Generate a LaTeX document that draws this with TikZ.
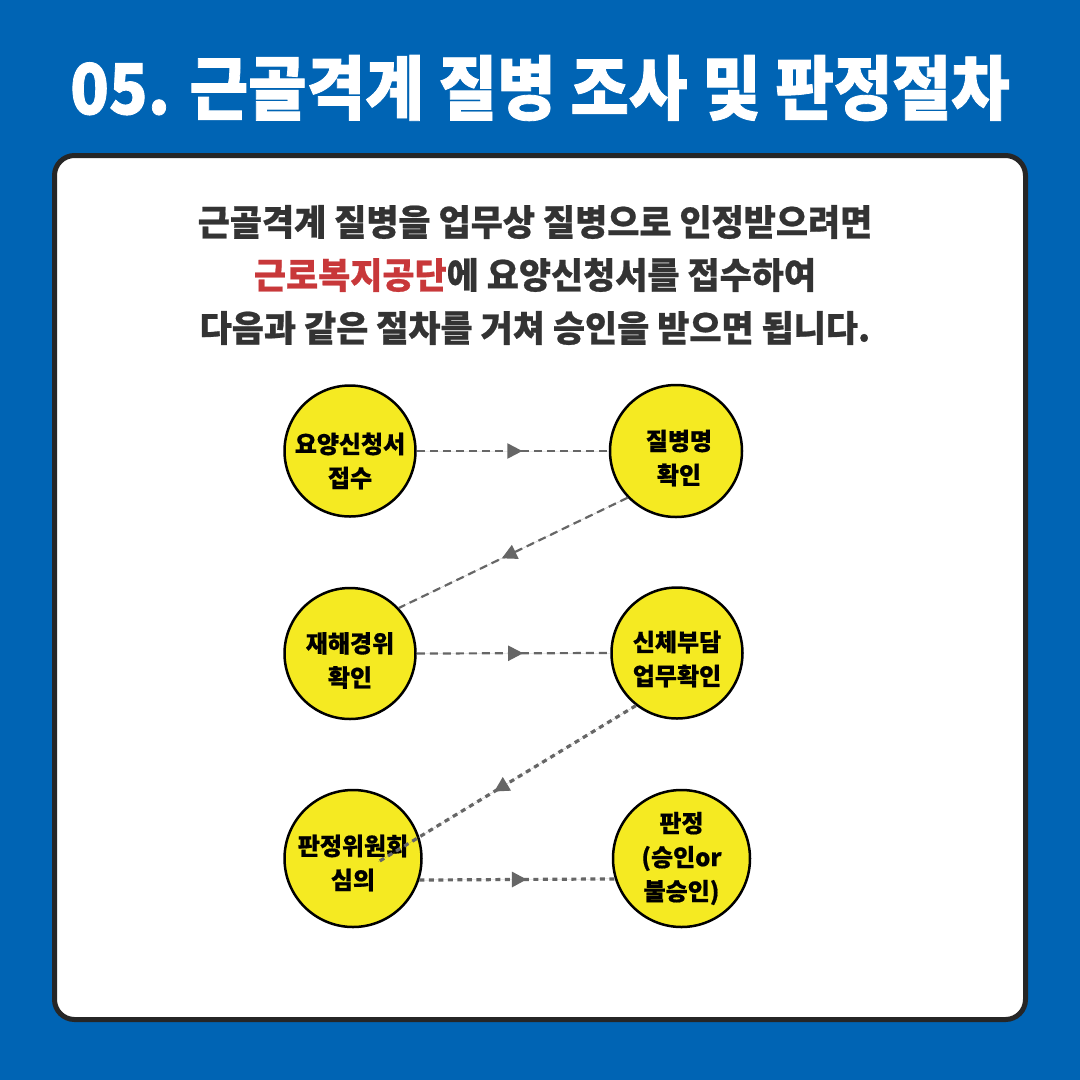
\documentclass[tikz,border=0pt]{standalone}
\usepackage{fontspec}
\setmainfont{Noto Sans CJK KR}
\usetikzlibrary{decorations.markings,arrows.meta}
\definecolor{bgblue}{HTML}{0064B4}
\definecolor{boxline}{HTML}{262626}
\definecolor{bodytext}{HTML}{333333}
\definecolor{accentred}{HTML}{C8383A}
\definecolor{stepyellow}{HTML}{F5EA22}
\definecolor{arrowgray}{HTML}{666666}
\tikzset{
  titletext/.style={text=white,font=\fontsize{70}{78}\selectfont\bfseries\addfontfeature{FakeBold=1.2},inner sep=0},
  panel/.style={draw=boxline,line width=5pt,fill=white,rounded corners=20pt,inner sep=0},
  bodypara/.style={text=bodytext,align=center,font=\fontsize{36}{53}\selectfont\bfseries\addfontfeature{FakeBold=0.6},inner sep=0},
  stepcircle/.style={circle,draw=black,line width=2.5pt,fill=stepyellow,inner sep=0,minimum size=#1},
  steplabel/.style={align=center,text=black,font=\fontsize{24}{34}\selectfont\bfseries\addfontfeature{FakeBold=0.6},inner sep=0},
  midarrow/.style={decoration={markings,mark=at position 0.55 with {\arrow{Triangle[length=15pt,width=15pt]}}},postaction={decorate}},
  flowA/.style={draw=arrowgray,fill=arrowgray,line width=2.2pt,dash pattern=on 8pt off 5pt,midarrow},
  flowB/.style={draw=arrowgray,fill=arrowgray,line width=3.2pt,dash pattern=on 5pt off 4.5pt,midarrow}
}
\begin{document}
\begin{tikzpicture}[x=1pt,y=-1pt]
\fill[bgblue] (0,0) rectangle (1080,1080);
\useasboundingbox (0,0) rectangle (1080,1080);
\node[titletext] (title) at (540,88) {\scalebox{0.91}[1]{05. 근골격계 질병 조사 및 판정절차}};
\node[panel,minimum width=971pt,minimum height=864pt] (panel) at (540,587.5) {};
\node[bodypara] (intro) at (535,275) {\scalebox{0.97}[1]{근골격계 질병을 업무상 질병으로 인정받으려면}\\\scalebox{0.97}[1]{{\color{accentred}근로복지공단}에 요양신청서를 접수하여}\\\scalebox{0.97}[1]{다음과 같은 절차를 거쳐 승인을 받으면 됩니다.}};

\node[stepcircle=131pt,label={[steplabel,yshift=-10pt]center:요양신청서\\접수}] (c1) at (350,451) {};
\node[stepcircle=132pt,label={[steplabel,yshift=-7pt,xshift=3pt]center:질병명\\확인}] (c2) at (676,451) {};
\node[stepcircle=131pt,label={[steplabel,yshift=-7pt]center:재해경위\\확인}] (c3) at (350,653.5) {};
\node[stepcircle=131pt,label={[steplabel,yshift=-6pt]center:신체부담\\업무확인}] (c4) at (677,653) {};
\node[stepcircle=137pt,label={[steplabel,yshift=-4.5pt]center:판정위원회\\심의}] (c5) at (353,858.5) {};
\node[stepcircle=137pt,label={[steplabel]center:판정\\(승인or\\불승인)}] (c6) at (681.5,858.5) {};
\coordinate (e4) at (378,862);

\draw[flowA] (c1.east) -- (c2.west);
\draw[flowA] (c2.224) -- (c3.43);
\draw[flowA] (c3.east) -- (c4.west);
\draw[flowB] (c4.232) -- (e4);
\draw[flowB] (c5.-18) -- (c6.197);
\end{tikzpicture}
\end{document}
